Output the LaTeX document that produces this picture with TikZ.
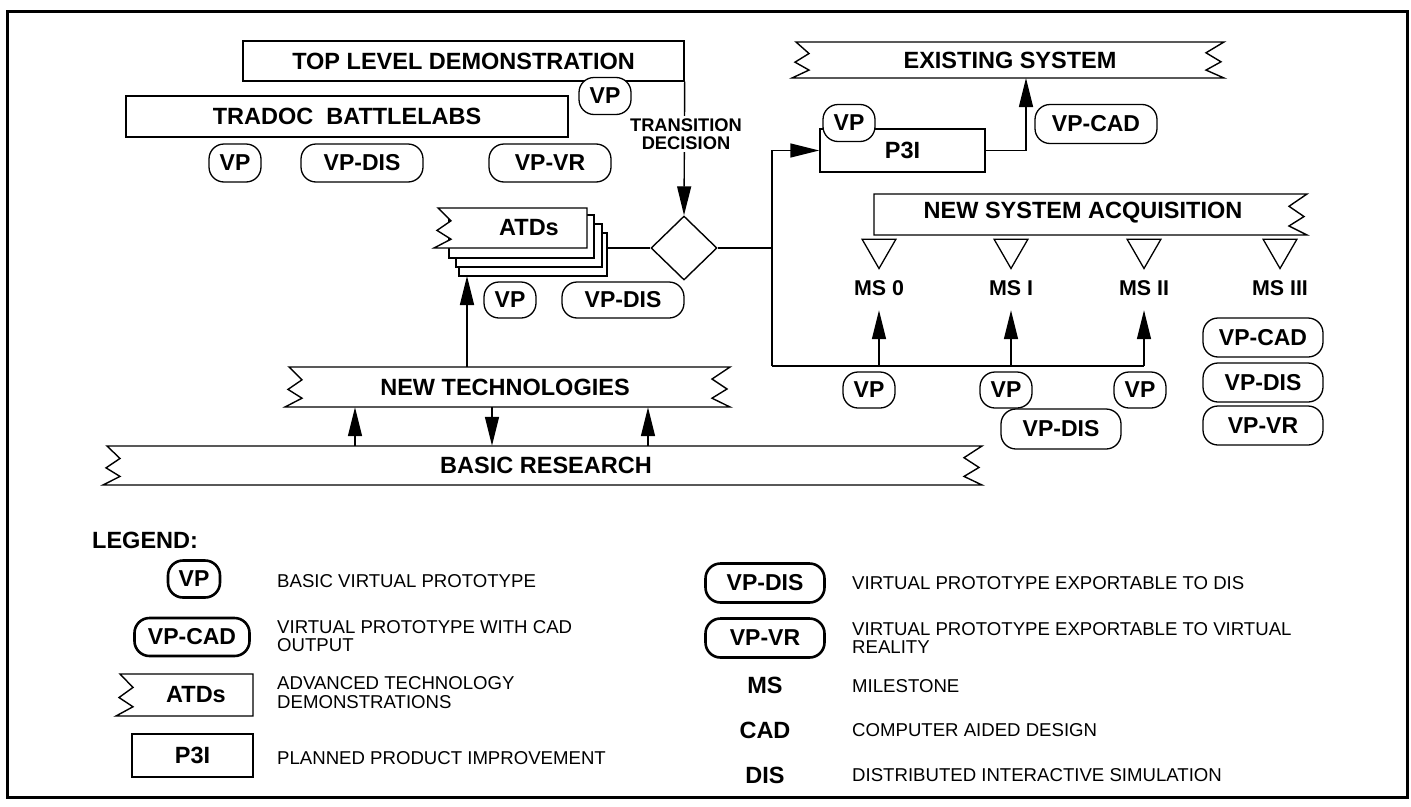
\documentclass[tikz,border=0pt]{standalone}
\usepackage{fontspec}
\setmainfont{Liberation Sans}
\usetikzlibrary{arrows.meta,shapes.geometric,calc}
\begin{document}
\begin{tikzpicture}[x=1pt,y=-1pt,
  ln/.style={line width=1.4pt},
  arr/.style={line width=1.4pt,-{Triangle[length=29pt,width=14pt]}},
  ttl/.style={font=\fontsize{23.5}{26}\selectfont\bfseries, inner sep=0pt},
  rbox/.style={draw, line width=1.3pt, rounded corners=15pt, minimum height=38pt, inner sep=0pt, fill=white, font=\fontsize{23}{26}\selectfont\bfseries},
  vp/.style={rbox, minimum width=52pt},
  vpw/.style={rbox, minimum width=122pt},
  lgb/.style={line width=2.6pt},
  desc/.style={anchor=west, align=left, inner sep=0pt, font=\fontsize{18.6}{18.5}\selectfont},
  tri/.style={draw, line width=1.3pt, regular polygon, regular polygon sides=3, shape border rotate=180, minimum size=39pt, inner sep=0pt},
  msl/.style={font=\fontsize{21.4}{24}\selectfont\bfseries, minimum height=44pt, inner sep=0pt},
  zigR/.style n args={3}{insert path={-- ({#1+2},#2) -- ({#1-16},{#2+0.3*(#3-#2)}) -- ({#1-1},{#2+0.55*(#3-#2)}) -- ({#1-16},{#2+0.78*(#3-#2)}) -- ({#1+2},#3)}},
  zigL/.style n args={3}{insert path={-- ({#1-3},#3) -- ({#1+14},{#2+0.78*(#3-#2)}) -- ({#1},{#2+0.56*(#3-#2)}) -- ({#1+14},{#2+0.32*(#3-#2)}) -- ({#1+1},#2)}},
]
\useasboundingbox (0,0) rectangle (1411,806);
\draw[line width=3pt] (7,11) rectangle (1407,797);

% top left
\node[draw,ln,ttl,minimum width=441pt,minimum height=40pt] (tld) at (463.5,61) {TOP LEVEL DEMONSTRATION};
\node[draw,ln,ttl,minimum width=442pt,minimum height=41pt] (trad) at (347,116.5) {TRADOC\ \ BATTLELABS};
\node[vp,minimum height=37pt] (vp0) at (605,96) {VP};
\node[vp] (vp1) at (235,163) {VP};
\node[vpw] (vpdis1) at (362,163) {VP-DIS};
\node[vpw] (vpvr1) at (550,163) {VP-VR};

% diamond and transition
\node[draw,ln,diamond,minimum width=66pt,minimum height=64pt,inner sep=0pt] (dia) at (684,248) {};
\draw[arr] (tld.south east) -- (dia.north);
\node[font=\fontsize{18.3}{18}\selectfont\bfseries, align=center, fill=white, inner sep=3pt] (trans) at (686,134) {TRANSITION\\DECISION};

% ATDs stack
\node[draw,ln,fill=white,minimum width=148pt,minimum height=43pt,inner sep=0pt] (atd4) at (533,254.5) {};
\draw[ln,fill=white] (456,224) rectangle (602,267);
\draw[ln,fill=white] (449,215) rectangle (594,258);
\draw[ln,fill=white] (587,208) -- (587,248) [zigL={437}{208}{248}] -- cycle;
\node[ttl] (atd) at (529,228) {ATDs};
\node[vp,minimum height=36pt] (vp2) at (510,300) {VP};
\node[vpw,minimum height=36pt] (vpdis2) at (623,300) {VP-DIS};
\draw[ln] (atd4.east |- dia.west) -- (dia.west);

% existing system and P3I
\draw[ln,fill=white] (796,42) [zigR={1222}{42}{78}] [zigL={795}{42}{78}] -- cycle;
\node[ttl,minimum width=400pt,minimum height=36pt] (es) at (1010,60) {EXISTING SYSTEM};
\node[draw,ln,ttl,minimum width=165pt,minimum height=43pt] (p3i) at (902.5,150.5) {P3I};
\node[vp,minimum height=37pt] (vp3) at (849,123) {VP};
\node[vpw,minimum height=39pt] (vpcad1) at (1096,124) {VP-CAD};
\coordinate (esin) at (1026,78);
\draw[arr] (p3i.east) -| (esin);

% new system acquisition
\draw[ln,fill=white] (874,194) [zigR={1305}{194}{235}] -- (874,235) -- cycle;
\node[ttl] (nsa) at (1083,213) {NEW SYSTEM ACQUISITION};
\node[tri] (t0) at (879,249) {};
\node[tri] (t1) at (1011,249) {};
\node[tri] (t2) at (1144,249) {};
\node[tri] (t3) at (1280,249) {};
\node[msl] (ms0) at (879,288) {MS 0};
\node[msl] (ms1) at (1011,288) {MS I};
\node[msl] (ms2) at (1144,288) {MS II};
\node[msl] (ms3) at (1280,288) {MS III};

\coordinate (jx) at (772,366);
\draw[ln] (dia.east) -- (dia.east -| jx);
\draw[arr] (jx) |- (p3i.west);
\draw[ln] (jx) -- (jx -| ms2);
\draw[arr] (jx -| ms0) -- (ms0.south);
\draw[arr] (jx -| ms1) -- (ms1.south);
\draw[arr] (jx -| ms2) -- (ms2.south);

\node[vp,minimum height=36pt] (vp4) at (869,390) {VP};
\node[vp,minimum height=36pt] (vp5) at (1006,390) {VP};
\node[vp,minimum height=36pt] (vp6) at (1140,390) {VP};
\node[vpw,minimum width=120pt,minimum height=40pt] (vpdis3) at (1061,429) {VP-DIS};
\node[vpw,minimum width=120pt,minimum height=39pt] (vpcad2) at (1263,337.5) {VP-CAD};
\node[vpw,minimum width=120pt,minimum height=39pt] (vpdis4) at (1263,382.5) {VP-DIS};
\node[vpw,minimum width=120pt,minimum height=39pt] (vpvr2) at (1263,425.5) {VP-VR};

% new technologies and basic research
\draw[ln,fill=white] (289,367) [zigR={728}{367}{407}] [zigL={288}{367}{407}] -- cycle;
\node[ttl,minimum width=420pt,minimum height=40pt] (nt) at (505,387) {NEW TECHNOLOGIES};
\draw[ln,fill=white] (107,446) [zigR={980}{446}{485}] [zigL={106}{446}{485}] -- cycle;
\node[ttl,minimum width=850pt,minimum height=39pt] (br) at (546,465.5) {BASIC RESEARCH};
\coordinate (atdin) at (467,276);
\draw[arr] (nt.north -| atdin) -- (atdin);
\coordinate (a1) at (355,0);
\coordinate (a2) at (492,0);
\coordinate (a3) at (648,0);
\draw[arr] (br.north -| a1) -- (nt.south -| a1);
\draw[arr] (nt.south -| a2) -- (br.north -| a2);
\draw[arr] (br.north -| a3) -- (nt.south -| a3);

% legend
\node[ttl,anchor=west] (leg) at (92,540) {LEGEND:};
\node[vp,lgb,minimum height=37pt] (lvp) at (194,579) {VP};
\node[vpw,lgb,minimum width=115pt] (lcad) at (192,637) {VP-CAD};
\draw[ln,fill=white] (253,674) -- (253,716) [zigL={119}{674}{716}] -- cycle;
\node[ttl] (latd) at (196,695) {ATDs};
\node[draw,ln,ttl,minimum width=121pt,minimum height=43pt] (lp3i) at (192.5,755.5) {P3I};
\node[desc] (d1) at (277,581) {BASIC VIRTUAL PROTOTYPE};
\node[desc] (d2) at (277,636) {VIRTUAL PROTOTYPE WITH CAD\\OUTPUT};
\node[desc] (d3) at (277,692.5) {ADVANCED TECHNOLOGY\\DEMONSTRATIONS};
\node[desc] (d4) at (277,758) {PLANNED PRODUCT IMPROVEMENT};

\node[vpw,lgb,minimum width=119pt,minimum height=39pt] (lvpdis) at (765,583) {VP-DIS};
\node[vpw,lgb,minimum width=119pt,minimum height=39pt] (lvpvr) at (765,638) {VP-VR};
\node[ttl] (lms) at (765,685) {MS};
\node[ttl] (lcadt) at (765,730) {CAD};
\node[ttl] (ldis) at (765,775) {DIS};
\node[desc] (d5) at (852,583) {VIRTUAL PROTOTYPE EXPORTABLE TO DIS};
\node[desc] (d6) at (852,638) {VIRTUAL PROTOTYPE EXPORTABLE TO VIRTUAL\\REALITY};
\node[desc] (d7) at (852,686) {MILESTONE};
\node[desc] (d8) at (852,730) {COMPUTER AIDED DESIGN};
\node[desc] (d9) at (852,775) {DISTRIBUTED INTERACTIVE SIMULATION};
\end{tikzpicture}
\end{document}
